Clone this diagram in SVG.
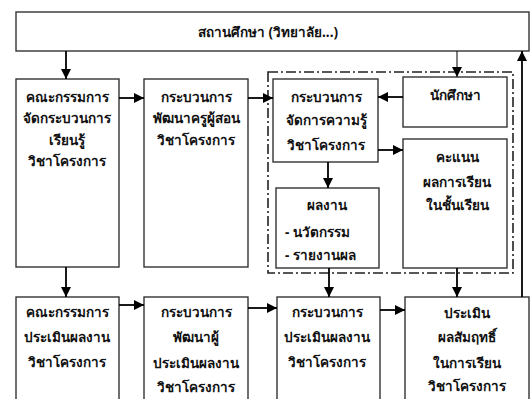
<svg xmlns="http://www.w3.org/2000/svg" width="531" height="399" viewBox="0 0 531 399">
<defs>
<marker id="ah" markerUnits="userSpaceOnUse" markerWidth="10" markerHeight="10" viewBox="0 0 10 10" refX="10" refY="5" orient="auto">
<path d="M0,0 L10,5 L0,10 Z" fill="#000"/>
</marker>
</defs>
<style>
.box{fill:#fff;stroke:#333;stroke-width:1.4}
.grp{fill:none;stroke:#222;stroke-width:1.6;stroke-dasharray:10 3 2 3}
.c{fill:none;stroke:#000;stroke-width:1.8;marker-end:url(#ah)}
.thin{stroke-width:1}
text{font-family:"Noto Sans","DejaVu Sans",sans-serif;font-size:13.5px;font-weight:bold;fill:#111;text-anchor:middle}
.l{text-anchor:start}
</style>
<rect width="531" height="399" fill="#fff"/>
<rect class="grp" x="268" y="72" width="245" height="201"/>
<g id="top"><rect class="box" x="16" y="12" width="513" height="39"/><text x="268" y="37">สถานศึกษา (วิทยาลัย...)</text></g>
<g id="a1"><rect class="box" x="16" y="79" width="103" height="188"/>
<text x="67" y="102">คณะกรรมการ</text><text x="67" y="123">จัดกระบวนการ</text><text x="67" y="145">เรียนรู้</text><text x="67" y="166">วิชาโครงการ</text></g>
<g id="b1"><rect class="box" x="144" y="79" width="104" height="188"/>
<text x="196" y="102">กระบวนการ</text><text x="196" y="123">พัฒนาครูผู้สอน</text><text x="196" y="145">วิชาโครงการ</text></g>
<g id="c1"><rect class="box" x="273" y="79" width="105" height="83"/>
<text x="326" y="102">กระบวนการ</text><text x="326" y="125">จัดการความรู้</text><text x="326" y="150">วิชาโครงการ</text></g>
<g id="student"><rect class="box" x="403" y="77" width="104" height="50"/><text x="455" y="100">นักศึกษา</text></g>
<g id="score"><rect class="box" x="403" y="139" width="104" height="129"/>
<text x="457" y="162">คะแนน</text><text x="457" y="187">ผลการเรียน</text><text x="457" y="210">ในชั้นเรียน</text></g>
<g id="work"><rect class="box" x="276" y="188" width="103" height="80"/>
<text x="327" y="210">ผลงาน</text><text class="l" x="285" y="237">- นวัตกรรม</text><text class="l" x="285" y="260">- รายงานผล</text></g>
<g id="a2"><rect class="box" x="16" y="297" width="103" height="106"/>
<text x="67" y="317">คณะกรรมการ</text><text x="67" y="342">ประเมินผลงาน</text><text x="67" y="367">วิชาโครงการ</text></g>
<g id="b2"><rect class="box" x="144" y="297" width="104" height="106"/>
<text x="196" y="317">กระบวนการ</text><text x="196" y="342">พัฒนาผู้</text><text x="196" y="368">ประเมินผลงาน</text><text x="196" y="392">วิชาโครงการ</text></g>
<g id="c2"><rect class="box" x="277" y="297" width="103" height="106"/>
<text x="327" y="317">กระบวนการ</text><text x="327" y="342">ประเมินผลงาน</text><text x="327" y="367">วิชาโครงการ</text></g>
<g id="d2"><rect class="box" x="405" y="297" width="124" height="106"/>
<text x="467" y="318">ประเมิน</text><text x="467" y="342">ผลสัมฤทธิ์</text><text x="467" y="368">ในการเรียน</text><text x="467" y="391">วิชาโครงการ</text></g>
<g id="connectors">
<path class="c" d="M66 51V79"/>
<path class="c thin" d="M457 51V77"/>
<path class="c" d="M119 98H144"/>
<path class="c" d="M248 98H273"/>
<path class="c" d="M403 97H378"/>
<path class="c" d="M378 150H403"/>
<path class="c" d="M328 162V188"/>
<path class="c" d="M66 267V297"/>
<path class="c" d="M119 305H144"/>
<path class="c" d="M248 308H277"/>
<path class="c" d="M380 310H405"/>
<path class="c" d="M329 268V297"/>
<path class="c" d="M457 268V297"/>
<path class="c" d="M522 297V51"/>
</g>
</svg>
